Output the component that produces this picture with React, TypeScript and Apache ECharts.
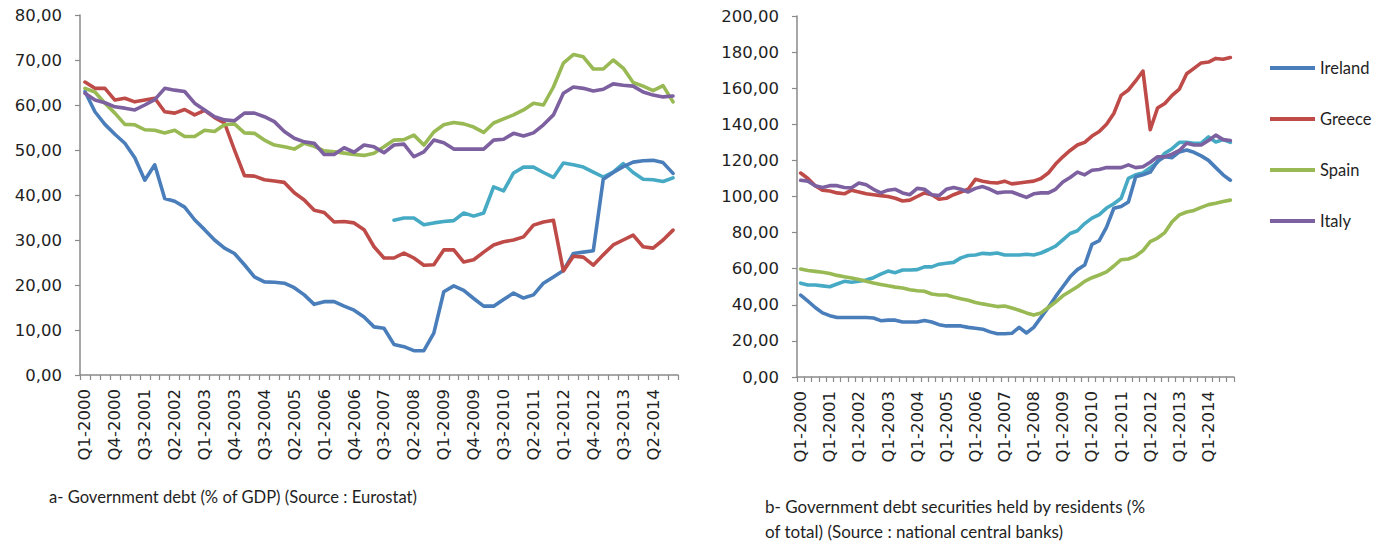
import React, { useEffect, useRef } from "react";
import * as echarts from "echarts";

const years = [2000, 2001, 2002, 2003, 2004, 2005, 2006, 2007, 2008, 2009, 2010, 2011, 2012, 2013, 2014];
const quarters = ["Q1", "Q2", "Q3", "Q4"];
const categories: string[] = [];
years.forEach((y) => quarters.forEach((q) => categories.push(`${q}-${y}`)));

const legendNames = ["Ireland", "Greece", "Spain", "Italy"];
const colors = { ireland: "#4A7EBB", greece: "#BE4B48", spain: "#98B954", italy: "#7D60A0", other: "#46AAC5" };

// Panel a: Government debt (% of GDP)
const debtIreland = [63, 58.5, 55.7, 53.5, 51.5, 48.3, 43.3, 46.7, 39.2, 38.6, 37.3, 34.5, 32.3, 30, 28.2, 27, 24.5, 21.8, 20.7, 20.6, 20.4, 19.4, 17.8, 15.7, 16.3, 16.3, 15.3, 14.4, 12.9, 10.7, 10.4, 6.8, 6.3, 5.4, 5.4, 9.3, 18.5, 19.8, 18.8, 17, 15.3, 15.3, 16.8, 18.2, 17.1, 17.8, 20.4, 21.8, 23.2, 27, 27.3, 27.6, 43.5, 45, 46.3, 47.3, 47.6, 47.7, 47.2, 44.8];
const debtGreece = [65.1, 63.7, 63.7, 61.1, 61.5, 60.7, 61.1, 61.5, 58.5, 58.2, 59, 57.8, 58.8, 57.2, 56, 50, 44.3, 44.2, 43.4, 43.1, 42.8, 40.5, 38.9, 36.6, 36.1, 34, 34.1, 33.8, 32.3, 28.5, 26, 26, 27.1, 26, 24.4, 24.5, 27.8, 27.8, 25.1, 25.6, 27.3, 28.9, 29.6, 30, 30.7, 33.3, 34, 34.4, 23.1, 26.4, 26.2, 24.4, 26.7, 28.9, 30, 31.1, 28.5, 28.2, 30, 32.2];
const debtSpain = [63.7, 62.9, 60.4, 58.2, 55.7, 55.6, 54.5, 54.4, 53.8, 54.4, 53, 53, 54.4, 54.1, 55.6, 55.8, 53.8, 53.7, 52.2, 51.1, 50.7, 50.2, 51.5, 50.8, 49.8, 49.6, 49.3, 49, 48.8, 49.3, 50.7, 52.2, 52.3, 53.3, 51.1, 54, 55.6, 56.1, 55.8, 55.1, 53.9, 56, 56.9, 57.8, 58.9, 60.4, 60, 64, 69.3, 71.2, 70.7, 68, 68, 70, 68.2, 65, 64.2, 63.2, 64.3, 60.7];
const debtItaly = [62.6, 61.1, 60.5, 59.6, 59.3, 58.9, 60, 61.2, 63.7, 63.3, 63, 60.4, 58.9, 57.4, 56.7, 56.5, 58.2, 58.2, 57.4, 56.3, 54.1, 52.6, 51.8, 51.5, 49, 49, 50.5, 49.5, 51.1, 50.7, 49.4, 51.1, 51.3, 48.5, 49.6, 52.2, 51.6, 50.2, 50.2, 50.2, 50.2, 52.2, 52.4, 53.7, 53.1, 53.8, 55.6, 57.8, 62.6, 64, 63.7, 63.1, 63.5, 64.7, 64.4, 64.2, 62.9, 62.2, 61.8, 62];
const debtOther = [null, null, null, null, null, null, null, null, null, null, null, null, null, null, null, null, null, null, null, null, null, null, null, null, null, null, null, null, null, null, null, 34.4, 34.9, 34.9, 33.4, 33.8, 34.1, 34.3, 36, 35.3, 36, 41.8, 40.9, 44.9, 46.2, 46.2, 45, 43.9, 47.1, 46.7, 46.2, 45.1, 44, 45.1, 47, 45, 43.5, 43.4, 43, 43.8];

// Panel b: Government debt securities held by residents (% of total)
const resIreland = [45.4, 42, 38.5, 35.5, 34, 33, 33, 33, 33, 33, 32.7, 31.2, 31.5, 31.5, 30.5, 30.5, 30.5, 31.3, 30.5, 29, 28.3, 28.3, 28.3, 27.5, 27, 26.5, 25, 24, 24, 24.2, 27.5, 24.4, 27.5, 33, 38.5, 44.5, 50, 55.5, 59.5, 62, 73.5, 75.5, 83, 93.5, 94.5, 97, 111, 112, 113.5, 119.5, 122, 121.5, 124.7, 125.8, 124.5, 122.5, 120, 116, 112, 109];
const resGreece = [113, 110, 106, 103.5, 103, 102, 101.5, 103.5, 102.5, 101.5, 101, 100.5, 100, 99, 97.5, 98, 100, 102, 101, 98.5, 99, 101, 102.5, 104, 109.5, 108.5, 107.8, 107.5, 108.5, 107, 107.5, 108, 108.5, 110, 113, 118, 122, 125.5, 128.5, 130, 133.5, 136, 140, 146, 156, 159, 164, 169.5, 137, 149, 151.5, 156, 159.5, 168, 171, 174, 174.5, 176.5, 176, 177];
const resSpain = [59.8, 59, 58.5, 58, 57.3, 56.3, 55.5, 54.8, 54, 53, 52.1, 51.3, 50.5, 49.8, 49.3, 48.3, 47.8, 47.5, 46, 45.4, 45.4, 44.3, 43.3, 42.5, 41.3, 40.5, 39.8, 39, 39.3, 38.2, 37, 35.5, 34.3, 35.5, 38.5, 41.5, 45, 47.5, 50, 53, 55, 56.5, 58.2, 61.5, 65, 65.4, 67, 70, 75, 77, 80, 86, 89.8, 91.4, 92.3, 94, 95.5, 96.3, 97.2, 98];
const resItaly = [109, 108.5, 106, 105, 106, 106, 105, 104.8, 107.5, 106.5, 104, 102, 103.5, 104, 102, 101, 104.5, 104, 101, 100.5, 104, 105, 104, 102.5, 104.5, 105.5, 104, 102, 102.5, 102.5, 101, 99.5, 101.5, 102, 102, 104, 108, 110.5, 113.5, 112, 114.5, 115, 116, 116, 116, 117.5, 116, 116.5, 119, 122, 122, 123.5, 125.5, 129.5, 128.5, 128.5, 131, 134, 131.5, 131];
const resOther = [52, 51, 51, 50.5, 50, 51.5, 53, 52.5, 53, 53.7, 55, 57, 58.7, 57.8, 59.3, 59.3, 59.5, 61, 61, 62.5, 63, 63.5, 66, 67.3, 67.6, 68.5, 68.2, 68.7, 67.6, 67.6, 67.6, 68, 67.6, 68.7, 70.5, 72.5, 76, 79.5, 81, 85, 88, 90, 93.6, 96, 99, 110, 112, 113, 116, 119, 124, 126.5, 130, 130, 129.5, 129.6, 133, 130.2, 131.5, 130];

const captionA = "a- Government debt (% of GDP) (Source : Eurostat)";
const captionB = "b- Government debt securities held by residents (%\nof total) (Source : national central banks)";

const fmt = (v: number) => v.toFixed(2).replace(".", ",");
const axisGray = "#8A8A8A";
const textColor = "#1F1F1F";
const tickFont = "DejaVu Sans";

function xAxis(gridIndex: number, labelInterval: number) {
  return {
    type: "category",
    gridIndex,
    data: categories,
    boundaryGap: true,
    axisLine: { lineStyle: { color: axisGray, width: 1.5 } },
    axisTick: { show: true, interval: 0, length: 5, lineStyle: { color: axisGray, width: 1.2 } },
    axisLabel: {
      interval: labelInterval,
      rotate: 90,
      margin: 14,
      color: textColor,
      fontFamily: tickFont,
      fontSize: 16.5,
    },
    splitLine: { show: false },
  };
}

function yAxis(gridIndex: number, max: number, interval: number) {
  return {
    type: "value",
    gridIndex,
    min: 0,
    max,
    interval,
    axisLine: { show: true, lineStyle: { color: axisGray, width: 1.5 } },
    axisTick: { show: true, length: 5, lineStyle: { color: axisGray, width: 1.2 } },
    axisLabel: {
      formatter: fmt,
      margin: 18,
      color: textColor,
      fontFamily: tickFont,
      fontSize: 16.5,
    },
    splitLine: { show: false },
  };
}

function line(name: string, color: string, data: (number | null)[], idx: number) {
  return {
    name,
    type: "line",
    xAxisIndex: idx,
    yAxisIndex: idx,
    data,
    showSymbol: false,
    symbol: "none",
    connectNulls: false,
    lineStyle: { color, width: 3.6, cap: "round", join: "round" },
    itemStyle: { color },
    z: 2,
  };
}

export default function App() {
  const ref = useRef<HTMLDivElement>(null);
  useEffect(() => {
    if (!ref.current) return;
    const chart = echarts.init(ref.current, undefined, { renderer: "svg" });
    chart.setOption({
      animation: false,
      backgroundColor: "#ffffff",
      grid: [
        { left: 80, top: 15, width: 598, height: 360 },
        { left: 797, top: 16, width: 437, height: 361 },
      ],
      xAxis: [xAxis(0, 2), xAxis(1, 3)],
      yAxis: [yAxis(0, 80, 10), yAxis(1, 200, 20)],
      legend: {
        data: legendNames,
        orient: "vertical",
        left: 1270,
        top: 59,
        padding: 0,
        icon: "rect",
        itemWidth: 45,
        itemHeight: 4,
        itemGap: 33,
        textStyle: { color: textColor, fontFamily: "Lato", fontSize: 16.5, lineHeight: 18 },
      },
      series: [
        line("Other", colors.other, debtOther, 0),
        line("Ireland", colors.ireland, debtIreland, 0),
        line("Greece", colors.greece, debtGreece, 0),
        line("Spain", colors.spain, debtSpain, 0),
        line("Italy", colors.italy, debtItaly, 0),
        line("Other", colors.other, resOther, 1),
        line("Ireland", colors.ireland, resIreland, 1),
        line("Greece", colors.greece, resGreece, 1),
        line("Spain", colors.spain, resSpain, 1),
        line("Italy", colors.italy, resItaly, 1),
      ],
      graphic: [
        {
          type: "text",
          left: 49,
          top: 488,
          style: { text: captionA, font: "16.6px Lato", fill: textColor },
        },
        {
          type: "text",
          left: 765,
          top: 494,
          style: { text: captionB, font: "17px Lato", fill: textColor, lineHeight: 25 },
        },
      ],
    });
    return () => chart.dispose();
  }, []);
  return (
    <div
      ref={ref}
      style={{ position: "fixed", left: 0, top: 0, width: 1395, height: 546, background: "#fff" }}
    />
  );
}
